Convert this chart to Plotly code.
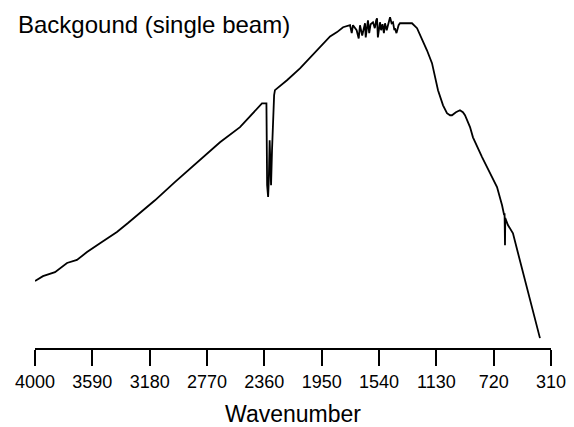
import plotly.graph_objects as go

# Wavenumber (cm^-1) and single-beam intensity (arbitrary units)
wavenumber = [4000, 3943, 3857, 3771, 3700, 3628, 3535, 3414, 3335, 3199, 3142, 3000, 2860,
              2677, 2534, 2441, 2377, 2345, 2340, 2333, 2328, 2322, 2317, 2312, 2305, 2298,
              2290, 2284, 2198, 2105, 1962, 1890, 1840, 1797, 1747, 1735, 1726, 1700, 1685,
              1676, 1660, 1650, 1640, 1635, 1625, 1619, 1610, 1600, 1583, 1570, 1560, 1554,
              1548, 1540, 1533, 1525, 1515, 1505, 1497, 1485, 1470, 1461, 1450, 1440, 1430,
              1426, 1415, 1400, 1390, 1340, 1304, 1268, 1233, 1197, 1161, 1140, 1118, 1082,
              1054, 1032, 1018, 990, 961, 940, 925, 889, 868, 803, 746, 696, 660, 645, 642,
              639, 637, 618, 582, 546, 496, 446, 389]
intensity = [20.3, 21.8, 23.0, 25.8, 26.7, 29.1, 31.8, 35.2, 37.9, 42.7, 44.8, 50.3, 55.5,
             62.4, 67.0, 71.2, 74.2, 74.2, 49.4, 45.8, 50.9, 63.0, 51.5, 49.4, 60.0, 71.2,
             76.7, 78.2, 81.2, 84.8, 91.2, 94.5, 95.8, 97.3, 97.9, 95.5, 97.9, 96.4, 93.9,
             97.9, 94.8, 97.0, 98.5, 94.2, 97.9, 99.4, 95.5, 98.2, 98.8, 97.0, 99.4, 100.0,
             94.2, 97.9, 98.8, 96.4, 98.2, 95.5, 98.5, 96.4, 99.4, 100.3, 98.5, 98.8, 96.4,
             97.0, 95.5, 97.9, 98.5, 98.5, 98.5, 97.0, 93.9, 90.3, 86.4, 82.1, 78.2, 73.6,
             71.2, 70.6, 70.6, 71.5, 72.1, 71.5, 70.6, 67.0, 63.9, 57.9, 53.0, 48.8, 43.3,
             40.3, 40.9, 31.2, 39.4, 37.3, 34.8, 28.8, 20.6, 12.4, 3.0]

tick_values = [4000, 3590, 3180, 2770, 2360, 1950, 1540, 1130, 720, 310]
tick_labels = [str(v) for v in tick_values]

title_text = "Backgound (single beam)"
x_title = "Wavenumber"

fig = go.Figure()
fig.add_trace(go.Scatter(x=wavenumber, y=intensity, mode="lines",
                         line=dict(color="black", width=1.8), hoverinfo="skip"))

font_family = "Liberation Sans, Arial, sans-serif"
fig.update_layout(
    width=574, height=427,
    margin=dict(l=35, r=23, t=15, b=79),
    paper_bgcolor="white", plot_bgcolor="white",
    showlegend=False,
    font=dict(family=font_family, color="black", size=18),
    title=dict(text=title_text, x=18/574, xanchor="left", xref="container",
               y=1 - 25/427, yanchor="middle", font=dict(size=24, color="black", family=font_family)),
)
fig.update_xaxes(range=[4000, 310], tickmode="array", tickvals=tick_values, ticktext=tick_labels,
                 showgrid=False, zeroline=False, showline=True, linecolor="black", linewidth=2,
                 ticks="outside", ticklen=16, tickwidth=2, tickcolor="black", automargin=False,
                 tickfont=dict(size=18, family=font_family, color="black"),
                 title=dict(text=x_title, font=dict(size=23, family=font_family, color="black"), standoff=15))
fig.update_yaxes(range=[0, 101], visible=False)

fig.write_html("out.html", config={"displayModeBar": False, "staticPlot": True},
               post_script="document.body.style.margin='0';document.body.style.padding='0';")
